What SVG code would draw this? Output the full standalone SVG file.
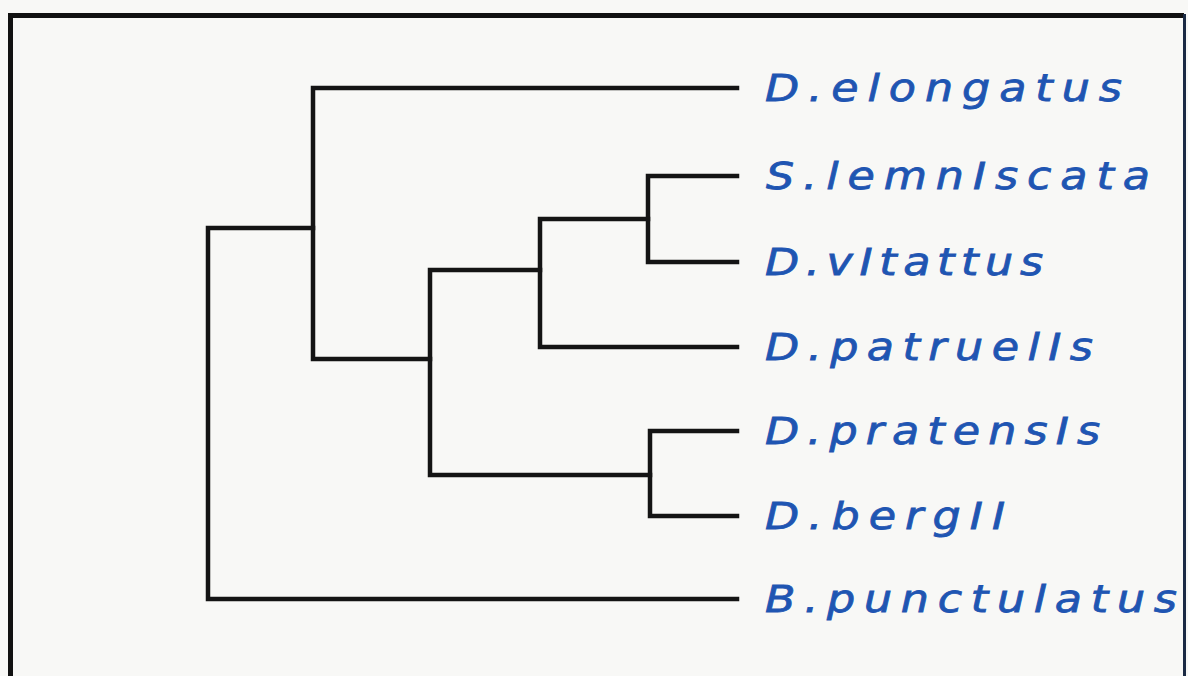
<svg xmlns="http://www.w3.org/2000/svg" width="1188" height="676" viewBox="0 0 1188 676">
  <style>
    .frame { fill: none; stroke: #111; stroke-width: 5; }
    .edge { fill: none; stroke: #141414; stroke-width: 4.5; stroke-linejoin: miter; stroke-linecap: square; }
    .taxon { font-family: "DejaVu Sans", "Liberation Sans", sans-serif; font-style: italic; font-size: 37px; fill: #1f55b2; stroke: #1f55b2; stroke-width: 0.8; }
  </style>
  <rect x="0" y="0" width="1188" height="676" fill="#f8f8f6"/>

  <!-- outer frame (open at the bottom) -->
  <path class="frame" d="M10.5,680 V15.5 H1184"/>
  <path d="M1184.5,14 V680" fill="none" stroke="#1b2a44" stroke-width="3"/>

  <!-- tree branches -->
  <g id="connectors">
    <!-- root -->
    <path class="edge" d="M313,228 H208 V599 H737"/>
    <!-- clade with D.elongatus -->
    <path class="edge" d="M737,88 H313 V359 H430"/>
    <!-- inner clade -->
    <path class="edge" d="M540,270 H430 V475 H650"/>
    <!-- patruelis group -->
    <path class="edge" d="M648,219 H540 V347 H737"/>
    <!-- lemniscata / vitattus -->
    <path class="edge" d="M737,176 H648 V262 H737"/>
    <!-- pratensis / bergii -->
    <path class="edge" d="M737,431 H650 V516 H737"/>
  </g>

  <!-- taxon labels, slightly widened horizontally -->
  <g id="d-elongatus"><text class="taxon" transform="translate(765,101) scale(1.2,1)" textLength="297.5" lengthAdjust="spacing">D.elongatus</text></g>
  <g id="s-lemniscata"><text class="taxon" transform="translate(766,189) scale(1.2,1)" textLength="320" lengthAdjust="spacing">S.lemnIscata</text></g>
  <g id="d-vitattus"><text class="taxon" transform="translate(765,275) scale(1.2,1)" textLength="231.7" lengthAdjust="spacing">D.vItattus</text></g>
  <g id="d-patruelis"><text class="taxon" transform="translate(765,360) scale(1.2,1)" textLength="273.3" lengthAdjust="spacing">D.patruelIs</text></g>
  <g id="d-pratensis"><text class="taxon" transform="translate(765,444) scale(1.2,1)" textLength="279.2" lengthAdjust="spacing">D.pratensIs</text></g>
  <g id="d-bergii"><text class="taxon" transform="translate(765,529) scale(1.2,1)" textLength="200" lengthAdjust="spacing">D.bergII</text></g>
  <g id="b-punctulatus"><text class="taxon" transform="translate(765,612) scale(1.2,1)" textLength="343.3" lengthAdjust="spacing">B.punctulatus</text></g>
</svg>
